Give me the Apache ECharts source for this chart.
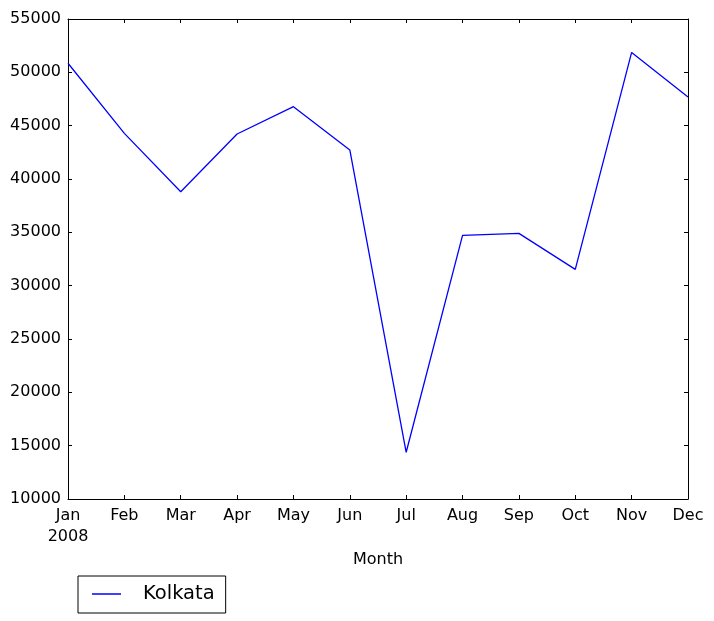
<!DOCTYPE html>
<html>
<head>
<meta charset="utf-8">
<script src="https://cdn.jsdelivr.net/npm/echarts@6/dist/echarts.min.js"></script>
<style>
html,body{margin:0;padding:0;background:#fff;}
#chart{width:714px;height:621px;}
</style>
</head>
<body>
<div id="chart"></div>
<script>
var months = ['Jan','Feb','Mar','Apr','May','Jun','Jul','Aug','Sep','Oct','Nov','Dec'];
var yearLabel = '2008';
var seriesName = 'Kolkata';
var kolkata = [50850, 44280, 38810, 44220, 46780, 42720, 14380, 34720, 34900, 31530, 51870, 47690];
var yMin = 10000, yMax = 55000, yStep = 5000;

var font = 'DejaVu Sans';
var chart = echarts.init(document.getElementById('chart'));
var tick = {show:true, inside:true, length:4, lineStyle:{color:'#000', width:1}};
chart.setOption({
  animation:false,
  backgroundColor:'#fff',
  textStyle:{fontFamily:font, color:'#000'},
  grid:{left:68, right:26, top:19, bottom:122, containLabel:false},
  legend:{
    data:[{name:seriesName, icon:'rect'}],
    left:78, top:576,
    orient:'vertical',
    borderColor:'#000', borderWidth:1, borderRadius:0,
    padding:[8,11,9,14],
    itemWidth:29, itemHeight:1.5,
    itemStyle:{color:'#0000ff', borderWidth:0},
    textStyle:{fontFamily:font, fontSize:19.5, color:'#000', padding:[0,0,0,17]}
  },
  xAxis:[{
    type:'category', data:months, boundaryGap:false,
    axisLine:{show:true, lineStyle:{color:'#000', width:1}},
    axisTick:Object.assign({alignWithLabel:true}, tick),
    axisLabel:{color:'#000', fontFamily:font, fontSize:16, margin:6, lineHeight:21,
      formatter:function(v, i){ return i === 0 ? v + '\n' + yearLabel : v; }},
    splitLine:{show:false},
    name:'Month', nameLocation:'middle', nameGap:51,
    nameTextStyle:{color:'#000', fontFamily:font, fontSize:16}
  },{
    type:'category', data:months, boundaryGap:false, position:'top',
    axisLine:{show:true, lineStyle:{color:'#000', width:1}},
    axisTick:tick, axisLabel:{show:false}, splitLine:{show:false}
  }],
  yAxis:[{
    type:'value', min:yMin, max:yMax, interval:yStep,
    axisLine:{show:true, lineStyle:{color:'#000', width:1}},
    axisTick:tick,
    axisLabel:{color:'#000', fontFamily:font, fontSize:16, margin:7,
      formatter:function(v){ return String(v); }},
    splitLine:{show:false}
  },{
    type:'value', min:yMin, max:yMax, interval:yStep, position:'right',
    axisLine:{show:true, lineStyle:{color:'#000', width:1}},
    axisTick:tick, axisLabel:{show:false}, splitLine:{show:false}
  }],
  series:[{
    name:seriesName, type:'line', data:kolkata,
    symbol:'none', showSymbol:false,
    lineStyle:{color:'#0000ff', width:1.3},
    itemStyle:{color:'#0000ff'}
  }]
});
</script>
</body>
</html>
